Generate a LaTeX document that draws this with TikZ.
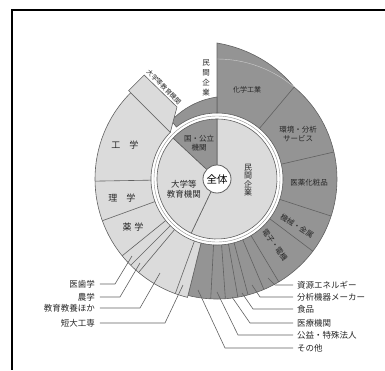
\documentclass[tikz,border=0pt]{standalone}
\usepackage{fontspec}
\setmainfont{Noto Sans CJK JP}
\definecolor{escuro}{gray}{0.58}
\definecolor{claro}{gray}{0.86}
\definecolor{traco}{gray}{0.38}
\tikzset{
  setor/.style={draw=traco, line width=0.6pt},
  guia/.style={traco, line width=0.6pt},
  rotulo/.style={inner sep=0pt, text=black!85, font=\fontsize{8.5}{10}\selectfont},
  dentro/.style={inner sep=0pt, text=black!85, align=center, font=\fontsize{7.5}{9}\selectfont},
}
\begin{document}
\begin{tikzpicture}[x=1pt,y=1pt]
  \useasboundingbox (-217,-191) rectangle (168,179);
  \draw[line width=1.6pt] (168,169) -- (-205,169) -- (-205,-191);   % moldura
  % anel externo escuro
  \filldraw[escuro, setor] (90:66) -- plot[domain=90:50, samples=20] (\x:{120+16*(\x-50)/40})
    arc[start angle=50, end angle=-104, radius=120] -- (-104:66)
    arc[start angle=-104, end angle=90, radius=66] -- cycle;
  \draw[claro!80!escuro, line width=0.4pt] (90:120) arc[start angle=90, end angle=50, radius=120]; % linha fina
  \foreach \a in {50,13,-18,-37,-59,-67,-75,-80,-86,-93}
    \draw[setor] (\a:66) -- (\a:120);                              % divisorias escuras
  % anel externo claro
  \filldraw[claro, setor] (135:66) -- (135:122) arc[start angle=135, end angle=256, radius=122]
    -- (256:66) arc[start angle=256, end angle=135, radius=66] -- cycle;
  \foreach \a in {181,200,219,225,230,250}
    \draw[setor] (\a:66) -- (\a:122);                              % divisorias claras
  \filldraw[escuro, setor] (90:66) -- plot[domain=90:128, samples=15] (\x:{82-8*(\x-90)/38})
    -- (128:66) arc[start angle=128, end angle=90, radius=66] -- cycle; % parte externa publica
  \filldraw[claro, setor] (135:66) -- (135:125) -- ++(45:22) -- (-40,72) -- (-44,57) -- cycle; % faixa
  \draw[traco!70, line width=0.4pt] (0,0) circle (63);             % anel fino
  % pizza interna
  \filldraw[claro, setor] (0,0) -- (-115.5:60) arc[start angle=-115.5, end angle=90, radius=60] -- cycle;
  \filldraw[claro, setor] (0,0) -- (137:60) arc[start angle=137, end angle=244.5, radius=60] -- cycle;
  \filldraw[escuro, setor] (0,0) -- (90:60) arc[start angle=90, end angle=137, radius=60] -- cycle;
  \node[circle, draw=traco, fill=white, line width=0.8pt, minimum size=28pt, inner sep=0pt,
        font=\fontsize{10.5}{12}\selectfont] (todo) at (0,0) {全体};
  % rotulos internos
  \node[dentro, font=\fontsize{8.5}{10}\selectfont] (univ) at (-33,-10) {大学等\\教育機関};
  \node[dentro, font=\fontsize{8}{8.5}\selectfont] (priv) at (31,-1) {民\\間\\企\\業};
  \node[dentro] (pub) at (-18,36) {国・公立\\機関};
  \node[dentro, font=\fontsize{7}{8}\selectfont] (quim) at (30,89) {化学工業};
  \node[dentro] (amb) at (81,45) {環境・分析\\サービス};
  \node[dentro] (farm) at (92,-4) {医薬化粧品};
  \node[dentro, rotate=-32] (mec) at (80,-47) {機械・金属};
  \node[dentro, rotate=-55] (ele) at (58,-66) {電子・電機};
  \node[dentro, font=\fontsize{9}{10}\selectfont] (eng) at (-92,34) {工\hspace{1em}学};
  \node[dentro, font=\fontsize{9}{10}\selectfont] (cie) at (-95,-19) {理\hspace{1em}学};
  \node[dentro, font=\fontsize{9}{10}\selectfont] (yak) at (-84,-48) {薬\hspace{.3em}学};
  \node[dentro, font=\fontsize{7.5}{10}\selectfont] (topo) at (-11,101) {民\\間\\企\\業};
  \node[dentro, font=\fontsize{6.5}{8}\selectfont, rotate=-45] (faixa) at (-53,92) {大学等教育機関};
  % pontos nas fatias
  \coordinate (p1) at (51,-99);   \coordinate (p2) at (35,-106);  \coordinate (p3) at (25,-114);
  \coordinate (p4) at (15,-118);  \coordinate (p5) at (0,-113);   \coordinate (p6) at (-19,-111);
  \coordinate (q1) at (-85,-77);  \coordinate (q2) at (-77,-84);  \coordinate (q3) at (-57,-94);
  \coordinate (q4) at (-34,-106);
  % legendas da direita
  \node[rotulo, anchor=west] (r1) at (80,-106) {資源エネルギー};
  \node[rotulo, anchor=west] (r2) at (80,-118) {分析機器メーカー};
  \node[rotulo, anchor=west] (r3) at (80,-130) {食品};
  \node[rotulo, anchor=west] (r4) at (80,-144) {医療機関};
  \node[rotulo, anchor=west] (r5) at (80,-156) {公益・特殊法人};
  \node[rotulo, anchor=west] (r6) at (80,-169) {その他};
  \draw[guia] ([xshift=-4pt]r1.west) -- ++(-18,0) -- (p1);
  \draw[guia] ([xshift=-4pt]r2.west) -- ++(-33,0) -- (p2);
  \draw[guia] ([xshift=-4pt]r3.west) -- ++(-40,0) -- (p3);
  \draw[guia] ([xshift=-4pt]r4.west) -- ++(-43,0) -- (p4);
  \draw[guia] ([xshift=-4pt]r5.west) -- ++(-55,0) -- (p5);
  \draw[guia] ([xshift=-4pt]r6.west) -- ++(-68,0) -- (p6);
  % legendas da esquerda
  \node[rotulo, anchor=east] (l1) at (-122,-105) {医歯学};
  \node[rotulo, anchor=east] (l2) at (-122,-118) {農学};
  \node[rotulo, anchor=east] (l3) at (-122,-129) {教育教養ほか};
  \node[rotulo, anchor=east] (l4) at (-122,-144) {短大工専};
  \draw[guia] ([xshift=5pt]l1.east) -- ++(15,0) -- (q1);
  \draw[guia] ([xshift=5pt]l2.east) -- ++(20,0) -- (q2);
  \draw[guia] ([xshift=5pt]l3.east) -- ++(40,0) -- (q3);
  \draw[guia] ([xshift=5pt]l4.east) -- ++(65,0) -- (q4);
\end{tikzpicture}
\end{document}
